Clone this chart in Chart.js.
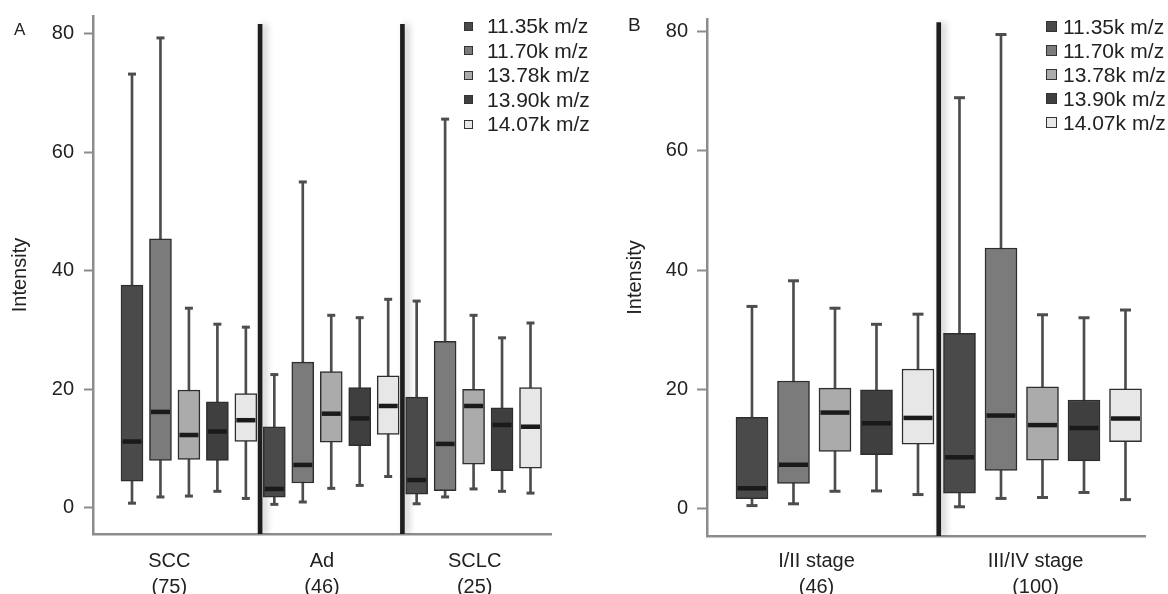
<!DOCTYPE html>
<html><head><meta charset="utf-8">
<script src="https://cdn.jsdelivr.net/npm/chart.js@4.4.1/dist/chart.umd.min.js"></script>
<style>
html,body{margin:0;padding:0;background:#fff;width:1168px;height:594px;overflow:hidden;font-family:"Liberation Sans",Arial,sans-serif;}
.wrap{position:absolute;top:0;}
#wa{left:0;width:600px;height:594px;}
#wb{left:600px;width:568px;height:594px;}
.letter{position:absolute;color:#222;line-height:1;}
.legend{position:absolute;color:#222;}
.legend .item{display:flex;align-items:center;white-space:nowrap;}
.legend .sw{display:inline-block;box-sizing:border-box;border:1.5px solid #333;flex:none;}
</style></head>
<body>
<div class="wrap" id="wa"><canvas id="ca" width="600" height="594"></canvas></div>
<div class="wrap" id="wb"><canvas id="cb" width="568" height="594"></canvas></div>
<div class="letter" style="left:14px;top:21px;font-size:17px;">A</div>
<div class="letter" style="left:628px;top:14.5px;font-size:19px;">B</div>
<div class="legend" id="lga"></div>
<div class="legend" id="lgb"></div>
<script>
// ---------- data ----------
const seriesNames = ['11.35k m/z','11.70k m/z','13.78k m/z','13.90k m/z','14.07k m/z'];
const seriesColors = ['#4a4a4a','#7b7b7b','#ababab','#3f3f3f','#e7e7e7'];
const yTicks = [0,20,40,60,80];

// Panel A: rows = groups, columns = series
const groupsA = [['SCC','(75)'],['Ad','(46)'],['SCLC','(25)']];
const minA = [[0.8,1.85,2.0,2.8,1.6],[0.6,1.0,3.3,3.8,5.3],[0.7,1.85,3.2,2.8,2.5]];
const q1A  = [[4.5,8.0,8.2,8.0,11.2],[1.8,4.2,11.1,10.5,12.4],[2.3,2.9,7.4,6.3,6.7]];
const medA = [[11.2,16.2,12.3,12.9,14.8],[3.2,7.25,15.9,15.1,17.2],[4.7,10.8,17.2,14.0,13.7]];
const q3A  = [[37.6,45.4,19.9,17.9,19.3],[13.7,24.6,23.0,20.3,22.3],[18.7,28.1,20.0,16.9,20.3]];
const maxA = [[73.2,79.3,33.7,31.0,30.5],[22.5,55.0,32.5,32.1,35.2],[34.9,65.6,32.5,28.7,31.2]];

// Panel B
const groupsB = [['I/II stage','(46)'],['III/IV stage','(100)']];
const minB = [[0.5,0.8,2.9,2.96,2.35],[0.3,1.7,1.86,2.7,1.5]];
const q1B  = [[1.65,4.2,9.6,9.05,10.8],[2.6,6.4,8.1,8.0,11.2]];
const medB = [[3.4,7.35,16.1,14.3,15.2],[8.6,15.6,14.0,13.5,15.1]];
const q3B  = [[15.3,21.4,20.2,19.9,23.4],[29.4,43.7,20.4,18.2,20.1]];
const maxB = [[33.9,38.2,33.6,30.9,32.6],[68.9,79.5,32.5,32.0,33.3]];

// ---------- rendering ----------
Chart.defaults.font.family = '"Liberation Sans", Arial, sans-serif';
const axisColor = '#8c8c8c';
const textColor = '#222';
const whiskerColor = '#4d4d4d';

const sepShadow = {
  id: 'sepShadow',
  beforeDatasetDraw(chart, args) {
    if (chart.data.datasets[args.index].isSeparator) {
      const c = chart.ctx; c.save();
      c.shadowColor = 'rgba(0,0,0,0.25)'; c.shadowBlur = 7; c.shadowOffsetX = 4;
    }
  },
  afterDatasetDraw(chart, args) {
    if (chart.data.datasets[args.index].isSeparator) chart.ctx.restore();
  }
};

function makeChart(id, groups, mins, q1s, meds, q3s, maxs, L) {
  const nS = seriesNames.length;
  const slot = (g, s) => g * nS + s + 1;
  const ds = [];
  const seps = [];
  for (let g = 1; g < groups.length; g++) seps.push({x: g * nS + 0.5, y: [L.yMin, L.sepTop]});
  ds.push({type:'bar', data: seps, backgroundColor:'#1e1e1e', borderWidth:0, barThickness:4,
           grouped:false, order:6, xAxisID:'x', yAxisID:'y', isSeparator:true});
  for (let s = 0; s < nS; s++) {
    ds.push({type:'bar', data: groups.map((_, g) => ({x: slot(g, s), y: [mins[g][s], maxs[g][s]]})),
      backgroundColor: whiskerColor, borderWidth:0, barThickness:2, grouped:false, order:5, xAxisID:'x', yAxisID:'y'});
    ds.push({type:'scatter', data: groups.flatMap((_, g) => [{x: slot(g, s), y: mins[g][s]}, {x: slot(g, s), y: maxs[g][s]}]),
      pointStyle:'line', radius:L.capR, hoverRadius:L.capR, borderColor: whiskerColor, borderWidth:3, order:4, xAxisID:'x', yAxisID:'y'});
    ds.push({type:'bar', label: seriesNames[s], data: groups.map((_, g) => ({x: slot(g, s), y: [q1s[g][s], q3s[g][s]]})),
      backgroundColor: seriesColors[s], borderColor:'#2e2e2e', borderWidth:1.5, borderSkipped:false,
      barThickness:L.boxW, grouped:false, order:3, xAxisID:'x', yAxisID:'y'});
    ds.push({type:'scatter', data: groups.map((_, g) => ({x: slot(g, s), y: meds[g][s]})),
      pointStyle:'line', radius:L.boxW/2 - 1.5, hoverRadius:L.boxW/2 - 1.5, borderColor:'#1a1a1a', borderWidth:4.5, order:2, xAxisID:'x', yAxisID:'y'});
  }
  return new Chart(document.getElementById(id), {
    type: 'bar',
    data: { datasets: ds },
    plugins: [sepShadow],
    options: {
      responsive:false, animation:false, events:[],
      layout: { padding: {top:L.padTop, right:L.padRight, left:0, bottom:0} },
      plugins: { legend:{display:false}, tooltip:{enabled:false} },
      scales: {
        x: { type:'linear', display:false, min:L.xMin, max:L.xMax, offset:false },
        xg: { type:'category', labels: groups, position:'bottom', offset:true,
          grid:{display:false, drawTicks:false},
          border:{display:true, color:axisColor, width:2.5},
          ticks:{font:{size:20, lineHeight:1.27}, color:textColor, padding:L.xTickPad, maxRotation:0, autoSkip:false},
          afterFit(s){ s.height = L.xAxisH; s.paddingLeft = 0; s.paddingRight = 0; } },
        y: { type:'linear', position:'left', min:L.yMin, max:L.yMax,
          afterBuildTicks(s){ s.ticks = yTicks.map(v => ({value:v})); },
          ticks:{font:{size:20}, color:textColor, padding:L.tickPad},
          grid:{drawOnChartArea:false, tickLength:L.tickLen, tickColor:axisColor, tickWidth:2},
          border:{display:true, color:axisColor, width:2.5},
          title:{display:true, text:'Intensity', font:{size:20}, color:textColor, padding:{top:L.titlePad, bottom:0}},
          afterFit(s){ s.width = L.yAxisW; s.paddingTop = 0; s.paddingBottom = 0; } }
      }
    }
  });
}

makeChart('ca', groupsA, minA, q1A, medA, q3A, maxA, {
  yMin:-4.4, yMax:83, xMin:-0.37, xMax:15.72, sepTop:81.6, boxW:22, capR:4,
  padTop:16, padRight:49, yAxisW:93, xAxisH:60, tickLen:9, tickPad:10, titlePad:8.5, xTickPad:15
});
makeChart('cb', groupsB, minB, q1B, medB, q3B, maxB, {
  yMin:-4.6, yMax:82.1, xMin:-0.084, xMax:10.47, sepTop:81.5, boxW:32, capR:5.5,
  padTop:9, padRight:23, yAxisW:107, xAxisH:58, tickLen:10, tickPad:9, titlePad:23, xTickPad:13
});

function makeLegend(id, L) {
  const el = document.getElementById(id);
  el.style.left = L.left + 'px'; el.style.top = L.top + 'px';
  el.style.fontSize = L.fontSize + 'px'; el.style.lineHeight = L.lh + 'px';
  seriesNames.forEach((name, i) => {
    const it = document.createElement('div'); it.className = 'item';
    const sw = document.createElement('span'); sw.className = 'sw';
    sw.style.width = L.sw + 'px'; sw.style.height = L.sw + 'px';
    sw.style.marginRight = L.gap + 'px'; sw.style.background = seriesColors[i];
    const tx = document.createElement('span'); tx.textContent = name;
    it.appendChild(sw); it.appendChild(tx); el.appendChild(it);
  });
}
makeLegend('lga', {left:464, top:14.3, fontSize:21, lh:24.4, sw:9, gap:14});
makeLegend('lgb', {left:1046, top:15, fontSize:21, lh:23.9, sw:11, gap:6});
</script>
</body></html>
